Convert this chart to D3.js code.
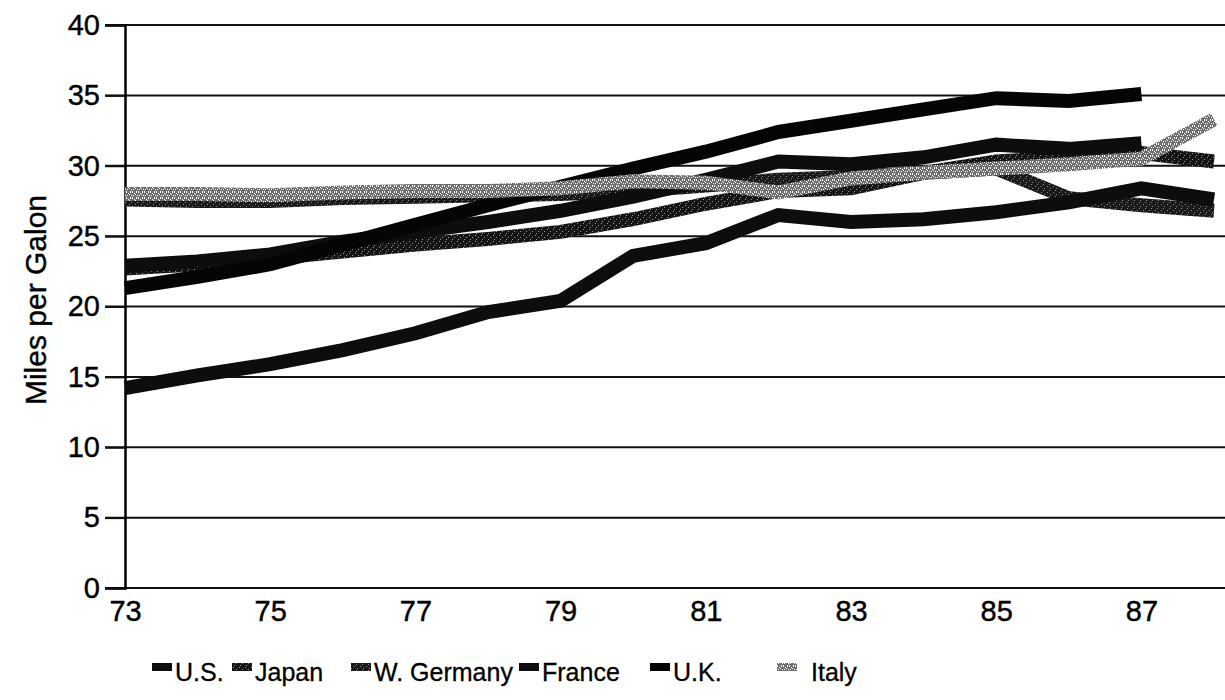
<!DOCTYPE html>
<html>
<head>
<meta charset="utf-8">
<script src="https://cdn.jsdelivr.net/npm/d3@7"></script>
<style>
  html, body { margin: 0; padding: 0; background: #fff; }
  svg { display: block; }
  text { font-family: "Liberation Sans", Arial, Helvetica, sans-serif; fill: #000; }
</style>
</head>
<body>
<svg id="chart" width="1225" height="700"></svg>
<script>
// ---- data ----
const years = [73, 74, 75, 76, 77, 78, 79, 80, 81, 82, 83, 84, 85, 86, 87, 88];
const xTickLabels = [73, 75, 77, 79, 81, 83, 85, 87];
const yTickValues = [0, 5, 10, 15, 20, 25, 30, 35, 40];
const seriesNames = ["U.S.", "Japan", "W. Germany", "France", "U.K.", "Italy"];

const usMpg      = [14.2, 15.1, 15.9, 16.9, 18.1, 19.6, 20.4, 23.6, 24.5, 26.5, 26.0, 26.2, 26.7, 27.4, 28.4, 27.6];
const japanMpg   = [22.7, 23.0, 23.4, 23.9, 24.4, 24.8, 25.3, 26.2, 27.3, 28.2, 28.4, 29.5, 30.3, 30.6, 30.9, 30.3];
const germanyMpg = [27.6, 27.5, 27.5, 27.7, 27.8, 27.9, 28.0, 28.2, 28.6, 29.0, 29.2, 29.5, 29.8, 27.7, 27.2, 26.8];
const franceMpg  = [22.9, 23.2, 23.7, 24.6, 25.3, 26.0, 26.8, 27.8, 29.0, 30.3, 30.1, 30.6, 31.5, 31.2, 31.6, null];
const ukMpg      = [21.3, 22.1, 23.0, 24.4, 25.8, 27.2, 28.5, 29.8, 31.0, 32.4, 33.2, 34.0, 34.8, 34.6, 35.1, null];
const italyMpg   = [28.0, 28.0, 27.9, 28.1, 28.2, 28.2, 28.4, 28.9, 28.8, 28.1, 29.1, 29.5, 29.8, 30.1, 30.5, 33.3];

const seriesValues = [usMpg, japanMpg, germanyMpg, franceMpg, ukMpg, italyMpg];
const seriesPaint = ["#0d0d0d", "url(#darkSpeck)", "url(#darkSpeck2)", "#0d0d0d", "#050505", "url(#lightSpeck)"];

// ---- layout ----
const svg = d3.select("#chart");
const plotLeft = 125, plotRight = 1214, plotTop = 25, plotBottom = 588;
const x = d3.scaleLinear().domain([73, 88]).range([plotLeft, plotRight]);
const y = d3.scaleLinear().domain([0, 40]).range([plotBottom, plotTop]);

// textures
const defs = svg.append("defs");
function speck(id, bg, dot, cells) {
  const p = defs.append("pattern").attr("id", id)
    .attr("patternUnits", "userSpaceOnUse").attr("width", 6).attr("height", 6);
  p.append("rect").attr("width", 6).attr("height", 6).attr("fill", bg);
  cells.forEach(c => p.append("rect").attr("x", c[0]).attr("y", c[1])
    .attr("width", 1).attr("height", 1).attr("fill", dot));
}
speck("lightSpeck", "#6e6e6e", "#ffffff", [[0,0],[2,1],[4,0],[1,3],[3,2],[5,3],[0,5],[4,5]]);
speck("darkSpeck", "#151515", "#9a9a9a", [[1,1],[4,3],[2,5]]);
speck("darkSpeck2", "#1a1a1a", "#8a8a8a", [[0,2],[3,0],[5,4]]);

// gridlines
svg.append("g").selectAll("line").data(yTickValues).join("line")
  .attr("x1", 105).attr("x2", 1225)
  .attr("y1", d => y(d)).attr("y2", d => y(d))
  .attr("stroke", "#111").attr("stroke-width", 2);

// y axis
const yAxis = svg.append("g").attr("transform", `translate(${plotLeft},0)`)
  .call(d3.axisLeft(y).tickValues(yTickValues).tickSize(20).tickPadding(5).tickFormat(d3.format("d")));
yAxis.select(".domain").attr("stroke", "#000").attr("stroke-width", 2.5);
yAxis.selectAll(".tick line").attr("stroke", "#111").attr("stroke-width", 2);
yAxis.selectAll("text").attr("font-size", 29).attr("fill", "#000")
  .attr("stroke", "#000").attr("stroke-width", 0.4);

// x axis labels
const xAxis = svg.append("g").attr("transform", `translate(0,${plotBottom})`)
  .call(d3.axisBottom(x).tickValues(xTickLabels).tickSize(0).tickPadding(12).tickFormat(d3.format("d")));
xAxis.select(".domain").remove();
xAxis.selectAll("text").attr("font-size", 29).attr("fill", "#000")
  .attr("stroke", "#000").attr("stroke-width", 0.4);

// y title
svg.append("text")
  .attr("transform", `translate(46,300) rotate(-90)`)
  .attr("text-anchor", "middle")
  .attr("font-size", 30)
  .attr("stroke", "#000").attr("stroke-width", 0.4)
  .text("Miles per Galon");

// lines
const line = d3.line()
  .defined(d => d[1] !== null)
  .x(d => x(d[0])).y(d => y(d[1]));

const drawOrder = [2, 1, 3, 0, 4, 5];
svg.append("g").selectAll("path").data(drawOrder).join("path")
  .attr("d", i => line(years.map((yr, k) => [yr, seriesValues[i][k]])))
  .attr("fill", "none")
  .attr("stroke", i => seriesPaint[i])
  .attr("stroke-width", 14)
  .attr("stroke-linejoin", "miter")
  .attr("stroke-linecap", "butt");

// legend
const legendX = [152, 232, 351, 519, 650, 777];
const lg = svg.append("g").selectAll("g").data(seriesNames).join("g")
  .attr("transform", (d, i) => `translate(${legendX[i]},672)`);
lg.append("rect").attr("x", 0).attr("y", -9).attr("width", 20).attr("height", 8)
  .attr("fill", (d, i) => seriesPaint[i]);
lg.append("text").attr("x", (d, i) => i === 5 ? 34 : 23).attr("y", 0)
  .attr("dy", "0.35em").attr("font-size", 25)
  .attr("stroke", "#000").attr("stroke-width", 0.3)
  .text(d => d);
</script>
</body>
</html>
